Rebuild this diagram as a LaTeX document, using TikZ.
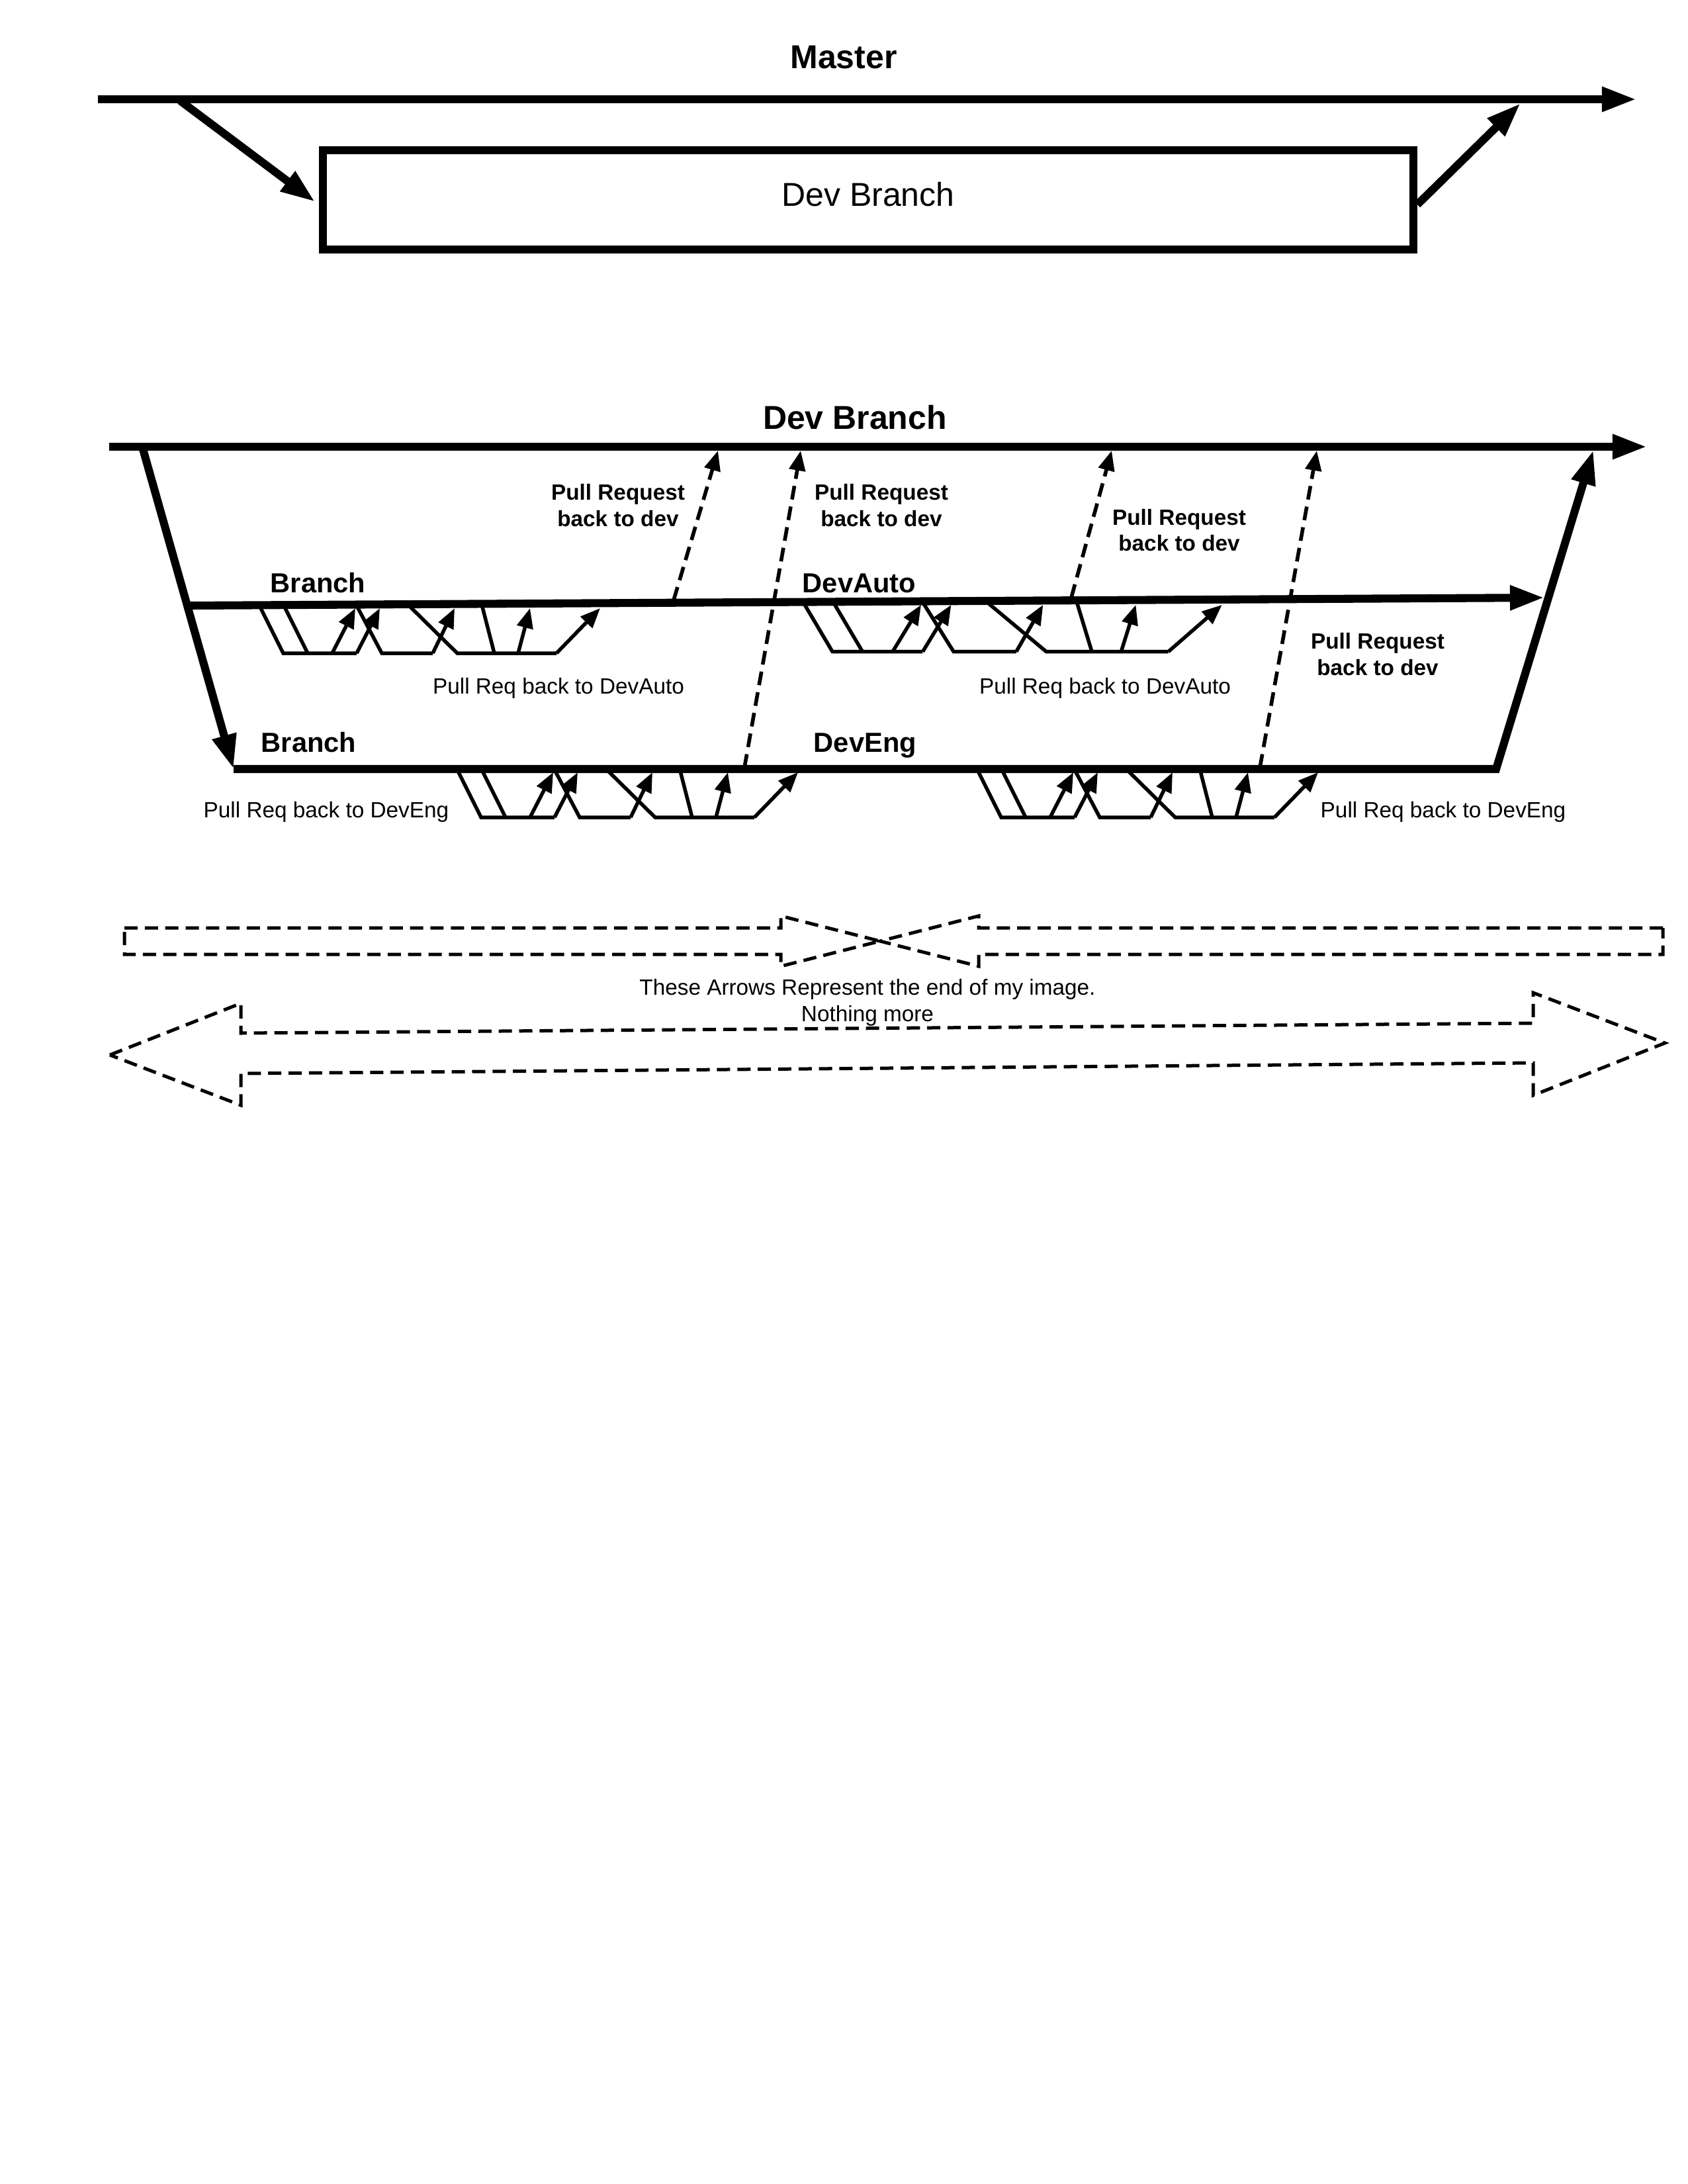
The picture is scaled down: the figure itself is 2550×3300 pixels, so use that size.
\documentclass[tikz,border=0pt]{standalone}
\usepackage{fontspec}
\setmainfont{Liberation Sans}
\usetikzlibrary{arrows.meta}

\tikzset{
  thickline/.style={line width=2.9pt},
  bigarrow/.style={line width=2.9pt,-{Triangle[length=12.5pt,width=8.4pt]}},
  thinline/.style={line width=1.32pt},
  thinarrow/.style={line width=1.32pt,-{Triangle[length=7.2pt,width=5.8pt]}},
  prarrow/.style={line width=1.35pt,dash pattern=on 5pt off 2.6pt,-{Triangle[length=7.2pt,width=5.8pt]}},
  endshape/.style={line width=1.2pt,dash pattern=on 4.8pt off 2.6pt,line join=miter},
  bigtitle/.style={font=\bfseries\fontsize{12}{14.4}\selectfont,anchor=base,inner sep=0pt},
  branchlabel/.style={font=\bfseries\fontsize{10}{12}\selectfont,anchor=base west,inner sep=0pt},
  prlabel/.style={font=\bfseries\fontsize{8}{9.6}\selectfont,anchor=base,inner sep=0pt},
  smalllabel/.style={font=\fontsize{8}{9.6}\selectfont,anchor=base,inner sep=0pt},
  cluster/.pic={
    \draw[thinline] (0,-3) -- (35,67) -- (146,67);
    \draw[thinline] (37,-3) -- (72,67);
    \draw[thinarrow] (109,67) -- (144,-1);
    \draw[thinarrow] (146,67) -- (181,-1);
    \draw[thinline] (147,-3) -- (184,67) -- (261,67);
    \draw[thinarrow] (261,67) -- (294,-1);
    \draw[thinline] (227,-3) -- (298,67) -- (448,67);
    \draw[thinline] (336,-3) -- (354,67);
    \draw[thinarrow] (390,67) -- (408,-1);
    \draw[thinarrow] (448,67) -- (514,-1);
  }
}

\begin{document}
\begin{tikzpicture}[x=0.24pt,y=-0.24pt]
\useasboundingbox (0,0) rectangle (2550,3300);
\fill[white] (0,0) rectangle (2550,3300);

% ---------- Master section ----------
\node[bigtitle] (master) at (1275,103) {Master};
\coordinate (m0) at (148,150);
\coordinate (m1) at (2473,150);
\coordinate (mDown) at (272,152);
\coordinate (mUp) at (2298,156);
\draw[bigarrow] (m0) -- (m1);

\node[draw,line width=2.9pt,minimum width=395.5pt,minimum height=36pt,
      inner sep=0pt,text height=8.75pt,text depth=4.35pt,
      font=\fontsize{12}{14.4}\selectfont] (box) at (1312,302) {Dev Branch};
\draw[bigarrow] (mDown) -- ([xshift=-1.4pt,yshift=-0.7pt]box.west);
\draw[bigarrow] ([yshift=-1.7pt]box.east) -- (mUp);

% ---------- Dev Branch section ----------
\node[bigtitle] (devtitle) at (1292,648) {Dev Branch};
\coordinate (d0) at (165,675);
\coordinate (d1) at (2489,675);
\coordinate (dDown) at (215,675);
\coordinate (dUp) at (2408,680);
\draw[bigarrow] (d0) -- (d1);

\coordinate (a0) at (286,915);
\coordinate (a1) at (2334,903);
\coordinate (e0) at (353,1162);
\coordinate (e1) at (2261,1162);

\draw[bigarrow] (dDown) -- (e0);
\draw[bigarrow] (a0) -- (a1);
\draw[bigarrow,line join=miter] (e0) -- (e1) -- (dUp);

\node[branchlabel] (lb1) at (408,895) {Branch};
\node[branchlabel] (lauto) at (1212,895) {DevAuto};
\node[branchlabel] (lb2) at (394,1136) {Branch};
\node[branchlabel] (leng) at (1229,1136) {DevEng};

% mini branches
\path (393,920) pic {cluster};
\path (1215,915) pic[xscale=1.229,yscale=1.04] {cluster};
\path (692,1168) pic {cluster};
\path (1478,1168) pic {cluster};

% pull request dashed arrows
\coordinate (pA1s) at (1018,907);
\coordinate (pA1e) at (1085,681);
\coordinate (pE1s) at (1125,1160);
\coordinate (pE1e) at (1210,681);
\coordinate (pA2s) at (1619,903);
\coordinate (pA2e) at (1680,681);
\coordinate (pE2s) at (1904,1160);
\coordinate (pE2e) at (1990,681);
\draw[prarrow] (pA1s) -- (pA1e);
\draw[prarrow] (pE1s) -- (pE1e);
\draw[prarrow] (pA2s) -- (pA2e);
\draw[prarrow] (pE2s) -- (pE2e);

\node[prlabel] (pr1a) at (934,755) {Pull Request};
\node[prlabel] (pr1b) at (934,795) {back to dev};
\node[prlabel] (pr2a) at (1332,755) {Pull Request};
\node[prlabel] (pr2b) at (1332,795) {back to dev};
\node[prlabel] (pr3a) at (1782,793) {Pull Request};
\node[prlabel] (pr3b) at (1782,832) {back to dev};
\node[prlabel] (pr4a) at (2082,980) {Pull Request};
\node[prlabel] (pr4b) at (2082,1020) {back to dev};

\node[smalllabel] (pra1) at (844,1048) {Pull Req back to DevAuto};
\node[smalllabel] (pra2) at (1670,1048) {Pull Req back to DevAuto};
\node[smalllabel] (pre1) at (493,1235) {Pull Req back to DevEng};
\node[smalllabel] (pre2) at (2181,1235) {Pull Req back to DevEng};

% ---------- end arrows ----------
\draw[endshape] (188,1402) -- (1180,1402) -- (1180,1384) -- (1330,1422)
  -- (1180,1460) -- (1180,1442) -- (188,1442) -- cycle;
\draw[endshape] (2513,1402) -- (1479,1402) -- (1479,1384) -- (1330,1422)
  -- (1479,1460) -- (1479,1442) -- (2513,1442) -- cycle;

\node[smalllabel] (endtxt1) at (1311,1503) {These Arrows Represent the end of my image.};
\node[smalllabel] (endtxt2) at (1311,1543) {Nothing more};

\draw[endshape] (166,1594) -- (364,1516) -- (364,1561) -- (2317,1546)
  -- (2317,1500) -- (2516,1576) -- (2317,1655) -- (2317,1606)
  -- (364,1622) -- (364,1670) -- cycle;
\end{tikzpicture}
\end{document}
